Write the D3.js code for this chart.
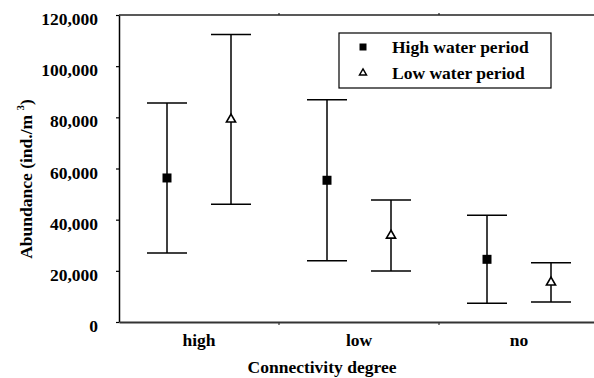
<!DOCTYPE html>
<html><head><meta charset="utf-8">
<script src="https://cdn.jsdelivr.net/npm/d3@7"></script>
<style>
html,body{margin:0;padding:0;background:#fff;overflow:hidden}
svg text{font-family:"Liberation Serif","Tinos","Times New Roman","Nimbus Roman","DejaVu Serif",serif !important;font-weight:bold;fill:#000}
</style></head>
<body><svg id="chart" width="594" height="378"></svg>
<script>
const categories = ["high", "low", "no"];
const seriesNames = ["High water period", "Low water period"];
const highWaterMean = [56300, 55400, 24500];
const highWaterSD   = [29300, 31500, 17200];
const lowWaterMean  = [79200, 33800, 15500];
const lowWaterSD    = [33200, 13900, 7700];
const yTicks = [0, 20000, 40000, 60000, 80000, 100000, 120000];
const xTitle = "Connectivity degree";

const W = 594, H = 378;
const FS = 17.5;
const m = {left: 119, top: 15, right: -5, bottom: 56};
const svg = d3.select("#chart");

const x = d3.scaleBand().domain(categories).range([m.left, W - m.right]).padding(0);
const xs = d3.scaleBand().domain(seriesNames).range([0, x.bandwidth()]).padding(0.5);
const y = d3.scaleLinear().domain([0, 120000]).range([H - m.bottom, m.top]);

const fmt = d3.format(",");

// y axis
const yAx = svg.append("g").attr("transform", `translate(${m.left},0)`)
  .call(d3.axisLeft(y).tickValues(yTicks).tickFormat(fmt).tickSize(3).tickPadding(18).tickSizeOuter(0));
yAx.attr("font-family", null);
yAx.select(".domain").attr("stroke", "#000").attr("stroke-width", 1.5);
yAx.selectAll(".tick line").attr("stroke", "#000").attr("stroke-width", 1.2);
yAx.selectAll(".tick text").attr("font-size", FS).attr("dy", "0.55em");

// x axis (bottom)
const xAx = svg.append("g").attr("transform", `translate(0,${y(0)})`)
  .call(d3.axisBottom(x).tickSize(0).tickPadding(12).tickSizeOuter(0));
xAx.attr("font-family", null);
xAx.select(".domain").attr("stroke", "#333").attr("stroke-width", 2);
xAx.selectAll(".tick text").attr("font-size", FS).attr("dy", "0.71em");
const bounds = categories.slice(1).map(c => x(c));
xAx.selectAll(".bt").data(bounds).enter().append("line").attr("class", "bt")
  .attr("x1", d => d).attr("x2", d => d).attr("y1", 0).attr("y2", 3)
  .attr("stroke", "#333").attr("stroke-width", 1.2);

// top frame line
const topG = svg.append("g").attr("transform", `translate(0,${y(120000)})`);
topG.append("line").attr("x1", m.left).attr("x2", W - m.right).attr("y1", 0).attr("y2", 0)
  .attr("stroke", "#222").attr("stroke-width", 1.5);
topG.selectAll(".tt").data(bounds).enter().append("line")
  .attr("x1", d => d).attr("x2", d => d).attr("y1", 0).attr("y2", -2)
  .attr("stroke", "#222").attr("stroke-width", 1.2);

// data rows
const rows = [];
categories.forEach((c, i) => {
  rows.push({cat: c, s: seriesNames[0], mean: highWaterMean[i], sd: highWaterSD[i]});
  rows.push({cat: c, s: seriesNames[1], mean: lowWaterMean[i], sd: lowWaterSD[i]});
});
const cx = d => x(d.cat) + xs(d.s) + xs.bandwidth() / 2;
const capW = 20;

const eb = svg.append("g").selectAll("g").data(rows).enter().append("g");
eb.append("line").attr("x1", cx).attr("x2", cx)
  .attr("y1", d => y(d.mean + d.sd)).attr("y2", d => y(d.mean - d.sd))
  .attr("stroke", "#000").attr("stroke-width", 1.5);
eb.append("line").attr("x1", d => cx(d) - capW).attr("x2", d => cx(d) + capW)
  .attr("y1", d => y(d.mean + d.sd)).attr("y2", d => y(d.mean + d.sd))
  .attr("stroke", "#000").attr("stroke-width", 1.5);
eb.append("line").attr("x1", d => cx(d) - capW).attr("x2", d => cx(d) + capW)
  .attr("y1", d => y(d.mean - d.sd)).attr("y2", d => y(d.mean - d.sd))
  .attr("stroke", "#000").attr("stroke-width", 1.5);

const sym = d3.scaleOrdinal().domain(seriesNames).range([d3.symbolSquare, d3.symbolTriangle]);
eb.append("path")
  .attr("transform", d => `translate(${cx(d)},${y(d.mean)})`)
  .attr("d", d => d3.symbol().type(sym(d.s)).size(d.s === seriesNames[0] ? 81 : 36)())
  .attr("fill", d => d.s === seriesNames[0] ? "#000" : "#fff")
  .attr("stroke", "#000").attr("stroke-width", d => d.s === seriesNames[0] ? 0 : 1.6);

// legend
const lg = svg.append("g").attr("transform", "translate(339,33)");
lg.append("rect").attr("width", 212).attr("height", 55).attr("fill", "#fff")
  .attr("stroke", "#000").attr("stroke-width", 1.2);
const li = lg.selectAll(".li").data(seriesNames).enter().append("g")
  .attr("transform", (d, i) => `translate(0,${14 + i * 26})`);
li.append("path").attr("transform", "translate(24,0)")
  .attr("d", d => d3.symbol().type(sym(d)).size(d === seriesNames[0] ? 49 : 22)())
  .attr("fill", d => d === seriesNames[0] ? "#000" : "#fff")
  .attr("stroke", "#000").attr("stroke-width", d => d === seriesNames[0] ? 0 : 1.4);
li.append("text").attr("x", 53).attr("y", 6).attr("font-size", FS).text(d => d);

// titles
svg.append("text").attr("x", 322).attr("y", 373).attr("text-anchor", "middle")
  .attr("font-size", FS).text(xTitle);
const yt = svg.append("text").attr("transform", "translate(32,179) rotate(-90)")
  .attr("text-anchor", "middle").attr("font-size", FS);
yt.append("tspan").text("Abundance (ind./m ");
yt.append("tspan").attr("font-size", 11).attr("dy", "-0.7em").text("3");
yt.append("tspan").attr("dy", "0.45em").text(")");
</script></body></html>
